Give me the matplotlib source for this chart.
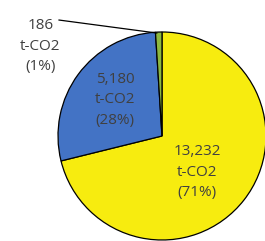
import matplotlib.pyplot as plt

valeurs = [13232, 5180, 186]
parts = ['71%', '28%', '1%']
couleurs = ['#F7EC0F', '#4373C5', '#8DB83F']

fig = plt.figure(figsize=(2.65, 2.41), dpi=100)
ax = fig.add_axes([0, 0, 1, 1])
ax.pie(valeurs, colors=couleurs, startangle=90, counterclock=False,
       wedgeprops=dict(edgecolor='black', linewidth=0.9))
ax.set_xlim(-162 / 104, 103 / 104)
ax.set_ylim(-105 / 104, 136 / 104)
ax.set_aspect('auto')
ax.axis('off')

txt = dict(fontsize=11, color='#404040', ha='center', va='center',
           linespacing=1.5, family='Open Sans')
positions = [(0.34, -0.35), (-0.45, 0.35), (-1.17, 0.865)]
for v, p, (x, y) in zip(valeurs, parts, positions):
    ax.text(x, y, f'{v:,}\nt-CO2\n({p})', **txt)

# ligne de rappel pour la petite part
ax.plot([-0.99, -0.05], [1.115, 0.99], color='black', lw=0.9)

fig.savefig('out.png', dpi=100)
